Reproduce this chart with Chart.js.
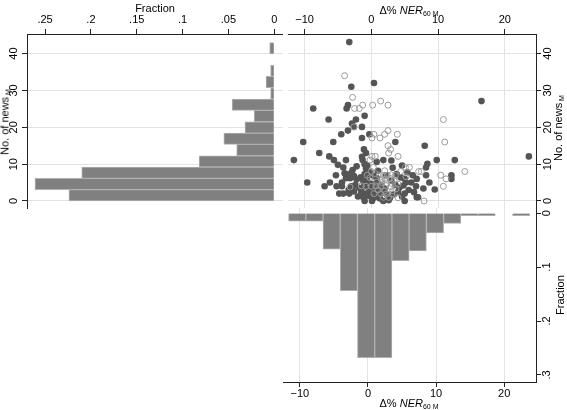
<!DOCTYPE html>
<html>
<head>
<meta charset="utf-8">
<script src="https://cdn.jsdelivr.net/npm/chart.js@4.4.1/dist/chart.umd.min.js"></script>
<style>
  body { margin: 0; width: 567px; height: 410px; background: #fff; position: relative; overflow: hidden;
         font-family: "Liberation Sans", Arial, sans-serif; }
  canvas { position: absolute; }
  .ttl { position: absolute; font-size: 11px; color: #000; white-space: nowrap; line-height: 1;
         transform: translate(-50%, -50%); }
  .ttl.rot { transform: translate(-50%, -50%) rotate(-90deg); }
  .ttl sub { font-size: 7px; vertical-align: baseline; position: relative; top: 2px; }
</style>
</head>
<body>
<canvas id="histNews" width="283" height="215" style="left:0;top:0"></canvas>
<canvas id="scatter" width="284" height="215" style="left:283px;top:0"></canvas>
<canvas id="histNer" width="284" height="210" style="left:283px;top:200px"></canvas>

<div class="ttl" style="left:155px;top:8px">Fraction</div>
<div class="ttl" style="left:409px;top:10px">&Delta;% <i>NER</i><sub>60 M</sub></div>
<div class="ttl" style="left:409px;top:403px">&Delta;% <i>NER</i><sub>60 M</sub></div>
<div class="ttl rot" style="left:5px;top:122px">No. of news<sub> M</sub></div>
<div class="ttl rot" style="left:558px;top:128px">No. of news<sub> M</sub></div>
<div class="ttl rot" style="left:560px;top:295px">Fraction</div>

<script>
// left histogram: No. of news (bin midpoints) and fraction per bin
const newsBins = [1.54, 4.61, 7.68, 10.75, 13.82, 16.89, 19.96, 23.04, 26.11, 29.18, 32.25, 35.32, 38.39, 41.46];
const newsFrac = [0.224, 0.261, 0.21, 0.082, 0.041, 0.055, 0.032, 0.022, 0.046, 0.004, 0.009, 0.004, 0, 0.005];

// bottom histogram: delta% NER (bin midpoints) and fraction per bin
const nerBins = [-10.40, -7.87, -5.34, -2.81, -0.28, 2.25, 4.78, 7.31, 9.84, 12.37, 14.90, 17.43, 19.96, 22.49];
const nerFrac = [0.015, 0.015, 0.067, 0.144, 0.268, 0.268, 0.088, 0.070, 0.037, 0.019, 0.005, 0.005, 0, 0.005];

// scatter, filled markers
const filledNER = [-3.3, 0.4, -3.0, 16.5, -8.7, -3.5, -3.7, -6.4, -2.3, -1.0, -2.9, -2.6, -1.4, -3.5, -4.5, -0.3, -1.4,
  -10.2, -5.7, 3.6, 8.0, -7.8, -1.1, -0.8, -6.3, -11.6, -5.6, -3.8, -1.3, 1.8, 9.8, 12.5, 23.6, 8.4, 8.2, -4.2,
  -5.3, -3.5, -3.2, -2.9, 6.2, 8.2, 12.0, 12.0, 6.8, 5.0, 5.2, -9.6, -6.2, 8.7, -7.0, -5.2, -4.4, 6.7, 9.5, -4.2,
  -3.3, 6.8, 7.0, -1.0, 0.1, 1.8, 5.0,
  -4.0, -3.6, -3.0, -2.6, -3.8, -2.2, -1.6, -1.0, -0.6, -0.2, 0.3, 0.8, -1.2, -0.4, 0.2, 0.9, 1.5, -2.4, -3.0, -1.8,
  -1.1, -0.3, 0.6, 1.2, 2.0, -2.6, -1.5, -0.8, 0.0, 0.7, 1.6, 2.4, -2.0, -1.2, -0.4, 0.4, 1.3, 2.8, 3.4, 4.0, 4.6,
  5.0, 4.2, 3.6, 4.8, 5.6, 3.0, 4.4, 2.2, 3.8, 1.0, -0.8, -2.2, -1.0, 3.2, 6.0, 5.4, -3.4, -4.4, 2.6, 0.8, -1.4,
  3.0, -0.6, 4.6, -5.0, -2.8, 6.4, 7.8, -4.8];
const filledNews = [43.1, 32.0, 31.0, 27.1, 25.1, 26.0, 25.1, 22.1, 22.1, 23.1, 21.0, 20.1, 20.1, 19.1, 18.1, 18.1, 17.1,
  16.0, 16.0, 16.0, 15.0, 13.0, 14.0, 13.0, 12.1, 11.1, 11.1, 11.1, 11.1, 11.1, 11.1, 11.1, 12.1, 10.1, 9.1, 9.1,
  7.0, 7.0, 6.2, 6.5, 7.0, 7.0, 7.0, 6.0, 6.0, 6.0, 5.0, 5.0, 5.0, 5.0, 4.0, 4.0, 4.0, 4.0, 3.1, 2.0,
  2.0, 1.0, 1.0, 0, 0, 0, 0,
  7.5, 7.2, 7.6, 6.8, 6.2, 5.8, 6.4, 7.3, 6.6, 7.8, 6.9, 6.2, 5.4, 5.0, 4.6, 4.9, 4.2, 4.3, 4.0, 3.6,
  3.9, 3.3, 3.6, 2.9, 3.3, 2.6, 2.4, 2.0, 2.6, 1.8, 2.2, 1.6, 1.2, 1.0, 1.4, 0.9, 0.7, 0.9, 1.8, 2.4, 1.2,
  2.0, 3.6, 4.4, 4.2, 3.0, 5.5, 6.4, 7.0, 7.3, 8.2, 8.8, 9.4, 10.0, 9.0, 5.0, 7.8, 3.0, 5.0, 0.2, 10.6, 12.0,
  11.0, 9.6, 9.6, 9.8, 8.4, 2.4, 3.4, 2.0];

// scatter, hollow markers
const hollowNER = [-4.0, -2.8, 1.4, 0.2, 2.5, -1.3, -2.5, -1.8, 10.8, -2.6, 2.5, 0.4, 2.0, 3.9, 0.1, 1.3, 11.0, 2.5,
  2.9, 2.6, 4.0, 0.1, 0.6, -0.2, 5.1, 5.7, 0.3, 14.0, 7.1, 7.5, 10.4, 11.2, 10.8, 7.9,
  0.0, 0.6, 1.2, 1.8, 2.4, 3.0, 3.6, 1.5, 2.1, 2.8, 3.4, 0.8, 1.6, 2.3, 3.0, -1.5, -0.8, 0.0, 0.7, 1.4, 2.2, 2.9,
  3.7, 1.0, 2.0, 3.2, 0.4, 1.4, 2.3, 3.1, 1.8, 2.6, 4.0, -0.2, 4.4, 2.0, 5.2, -3.2, -0.6, 4.0];
const hollowNews = [34.0, 28.1, 27.1, 26.0, 26.0, 26.0, 25.1, 25.1, 22.1, 20.1, 19.1, 18.1, 18.1, 18.1, 17.1, 17.1, 16.0, 15.0,
  14.0, 13.0, 12.1, 12.1, 12.1, 11.1, 9.1, 9.1, 9.1, 8.0, 8.0, 8.0, 7.0, 6.0, 4.0, 0,
  8.0, 7.4, 7.0, 6.9, 7.0, 7.1, 6.9, 6.0, 5.9, 6.1, 5.6, 5.1, 5.0, 4.9, 4.8, 4.1, 4.0, 4.0, 4.1, 4.0, 4.2, 3.9,
  3.3, 3.0, 2.7, 2.8, 2.0, 2.0, 2.0, 1.9, 1.0, 1.0, 0.9, 6.3, 8.0, 8.2, 6.6, 3.8, 7.0, 4.6];

// tick values
const newsTicks = [0, 10, 20, 30, 40];
const nerTicks = [-10, 0, 10, 20];
const fracTicksLeft = [0, 0.05, 0.1, 0.15, 0.2, 0.25];
const fracTicksBottom = [0, 0.1, 0.2, 0.3];

Chart.defaults.font.family = '"Liberation Sans", Arial, sans-serif';
Chart.defaults.font.size = 11;
Chart.defaults.color = '#000';

const AXIS = '#222';
const GRID = '#e3e3e3';
const BAR_FILL = '#808080';
const BAR_EDGE = '#b0b0b0';

// Stata-like labels: ".25", "−10"
function fmtFrac(v) { return v === 0 ? '0' : String(v).replace(/^0/, ''); }
function fmtNum(v) { return v < 0 ? '\u2212' + Math.abs(v) : String(v); }

function fixTicks(list) {
    return function (s) { s.ticks = list.map(v => ({ value: v })); };
}

// horizontal axis with a fixed height
function xAxis(pos, min, max, ticks, fmt, gridOn, size, pad, reverse) {
    return {
        type: 'linear', position: pos, min: min, max: max, reverse: !!reverse, offset: false,
        afterBuildTicks: fixTicks(ticks),
        afterFit: s => { s.height = size; s.paddingLeft = 0; s.paddingRight = 0; },
        grid: { offset: false, drawOnChartArea: gridOn, color: GRID, tickColor: AXIS, tickLength: 5 },
        border: { color: AXIS, width: 1 },
        ticks: { callback: fmt, padding: pad, autoSkip: false, maxRotation: 0, color: '#000' }
    };
}

// vertical axis with rotated labels and a fixed width
function yAxis(pos, min, max, ticks, fmt, gridOn, size, pad, reverse) {
    return {
        type: 'linear', position: pos, min: min, max: max, reverse: !!reverse, offset: false,
        afterBuildTicks: fixTicks(ticks),
        afterFit: s => { s.width = size; s.paddingTop = 0; s.paddingBottom = 0; },
        grid: { offset: false, drawOnChartArea: gridOn, color: GRID, tickColor: AXIS, tickLength: 5 },
        border: { color: AXIS, width: 1 },
        ticks: { callback: fmt, padding: pad, autoSkip: false, minRotation: 90, maxRotation: 90,
                 crossAlign: 'center', color: '#000' }
    };
}

const base = {
    animation: false,
    responsive: false,
    devicePixelRatio: 1,
    plugins: { legend: { display: false }, tooltip: { enabled: false } }
};

// 1. left histogram (horizontal bars, fraction grows to the left)
new Chart(document.getElementById('histNews'), {
    type: 'bar',
    data: {
        datasets: [{
            data: newsBins.map((b, i) => ({ x: newsFrac[i], y: b })),
            backgroundColor: BAR_FILL,
            borderColor: BAR_EDGE,
            borderWidth: 1,
            categoryPercentage: 1,
            barPercentage: 1
        }]
    },
    options: Object.assign({}, base, {
        indexAxis: 'y',
        layout: { padding: { left: 0, right: 0, top: 0, bottom: 7 } },
        scales: {
            x: xAxis('top', -0.0095, 0.2697, fracTicksLeft, fmtFrac, false, 34, 2, true),
            y: yAxis('left', -1.9, 45.3, newsTicks, fmtNum, true, 27, 2)
        }
    })
});

// 2. scatter
new Chart(document.getElementById('scatter'), {
    type: 'scatter',
    data: {
        datasets: [
            {
                data: hollowNER.map((v, i) => ({ x: v, y: hollowNews[i] })),
                pointRadius: 3,
                borderColor: '#9a9a9a',
                backgroundColor: 'rgba(0,0,0,0)',
                borderWidth: 1,
                order: 1
            },
            {
                data: filledNER.map((v, i) => ({ x: v, y: filledNews[i] })),
                pointRadius: 3.3,
                borderColor: '#555',
                backgroundColor: '#555',
                borderWidth: 0,
                order: 2
            }
        ]
    },
    options: Object.assign({}, base, {
        layout: { padding: { left: 0, right: 0, top: 0, bottom: 7 } },
        scales: {
            x: xAxis('top', -12.48, 24.67, nerTicks, fmtNum, true, 34, 2),
            y: yAxis('right', -1.9, 45.3, newsTicks, fmtNum, true, 31, 1)
        }
    })
});

// 3. bottom histogram (bars hang down from 0)
new Chart(document.getElementById('histNer'), {
    type: 'bar',
    data: {
        datasets: [{
            data: nerBins.map((b, i) => ({ x: b, y: nerFrac[i] })),
            backgroundColor: BAR_FILL,
            borderColor: BAR_EDGE,
            borderWidth: 1,
            categoryPercentage: 1,
            barPercentage: 1
        }]
    },
    options: Object.assign({}, base, {
        layout: { padding: { left: 0, right: 0, top: 8, bottom: 0 } },
        scales: {
            x: xAxis('bottom', -12.48, 24.67, nerTicks, fmtNum, true, 28, 0),
            y: yAxis('right', -0.0094, 0.313, fracTicksBottom, fmtFrac, false, 31, 1, true)
        }
    })
});
</script>
</body>
</html>
